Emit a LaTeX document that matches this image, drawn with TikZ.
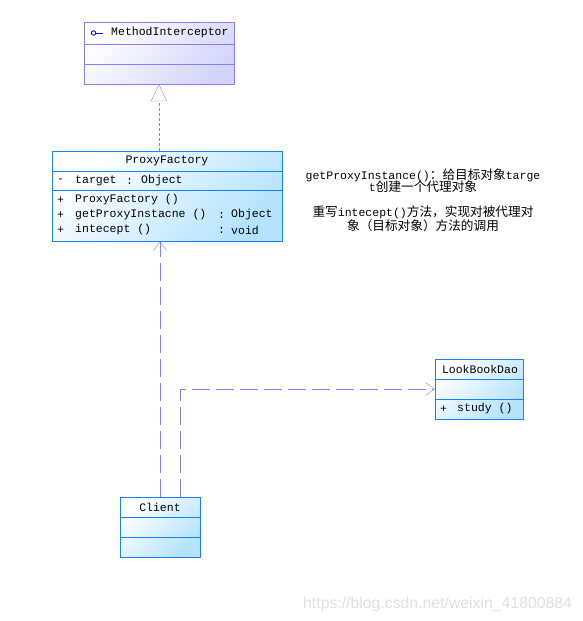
\documentclass[tikz,border=0pt]{standalone}
\usepackage{fontspec}
\setmainfont{Liberation Mono}
\newfontfamily\cjk[Scale=1.1]{Noto Sans CJK SC}
\newfontfamily\wmfont{Liberation Sans}
\usetikzlibrary{arrows.meta}

\definecolor{ifline}{RGB}{128,128,255}
\definecolor{iffill}{RGB}{212,212,250}
\definecolor{clline}{RGB}{20,130,255}
\definecolor{clfill}{RGB}{180,226,255}

\tikzset{
  ifbox/.style={draw=ifline, top color=white, bottom color=iffill, shading angle=45, inner sep=0pt},
  clbox/.style={draw=clline, top color=white, bottom color=clfill, shading angle=45, inner sep=0pt},
  txt/.style={font=\fontsize{11.5}{12}\selectfont, inner sep=0pt, anchor=west},
  ctxt/.style={font=\fontsize{11.5}{12}\selectfont, inner sep=0pt},
  real/.style={ifline, dash pattern=on 3pt off 2pt, -{Triangle[open, length=17pt, width=16pt, fill=white]}},
  dep/.style={ifline, dash pattern=on 18pt off 6pt, -{Straight Barb[length=9pt, width=13pt]}}
}

\begin{document}
\begin{tikzpicture}[x=1pt, y=-1pt]

  \useasboundingbox (0,0) rectangle (583,621);

  % interface MethodInterceptor
  \node[ifbox, minimum width=150pt, minimum height=62pt] (mi) at (159,53) {};
  \draw[ifline] (84,44) -- (234,44);
  \draw[ifline] (84,64) -- (234,64);
  \draw[blue, line width=0.9pt] (93.5,33) circle (2.2pt);
  \draw[blue, line width=0.9pt] (95.7,33) -- (103,33);
  \node[txt] (miname) at (111,33) {MethodInterceptor};

  % class ProxyFactory
  \node[clbox, minimum width=230pt, minimum height=90pt] (pf) at (167,196) {};
  \draw[clline] (52,171) -- (282,171);
  \draw[clline] (52,190) -- (282,190);
  \node[ctxt] (pfname) at (167,161) {ProxyFactory};
  \node[txt] (pfa1) at (57,181) {-};
  \node[txt] (pfa2) at (75,181) {target};
  \node[txt] (pfa3) at (126,181) {:};
  \node[txt] (pfa4) at (141,181) {Object};
  \node[txt] (pfo1) at (57,200) {+};
  \node[txt] (pfo2) at (75,200) {ProxyFactory ()};
  \node[txt] (pfo3) at (57,215) {+};
  \node[txt] (pfo4) at (75,215) {getProxyInstacne ()};
  \node[txt] (pfo5) at (218,215) {:};
  \node[txt] (pfo6) at (231,215) {Object};
  \node[txt] (pfo7) at (57,230) {+};
  \node[txt] (pfo8) at (75,230) {intecept ()};
  \node[txt] (pfo9) at (218,230) {:};
  \node[txt] (pfo10) at (231,230) {void};

  % class LookBookDao
  \node[clbox, minimum width=88pt, minimum height=60pt] (lb) at (479,389) {};
  \draw[clline] (435,379) -- (523,379);
  \draw[clline] (435,399) -- (523,399);
  \node[ctxt] (lbname) at (480,369) {LookBookDao};
  \node[txt] (lbo1) at (440,409) {+};
  \node[txt] (lbo2) at (457,409) {study ()};

  % class Client
  \node[clbox, minimum width=80pt, minimum height=60pt] (cl) at (160,527) {};
  \draw[clline] (120,517) -- (200,517);
  \draw[clline] (120,537) -- (200,537);
  \node[ctxt] (clname) at (160,507) {Client};

  % note
  \node[ctxt] (n1) at (423,175) {getProxyInstance(){\cjk ：给目标对象}targe};
  \node[ctxt] (n2) at (423,187) {t{\cjk 创建一个代理对象}};
  \node[ctxt] (n3) at (423,212) {{\cjk 重写}intecept(){\cjk 方法，实现对被代理对}};
  \node[ctxt] (n4) at (423,226) {{\cjk 象（目标对象）方法的调用}};

  % relations
  \draw[real] (mi.south |- pf.north) -- (mi.south);
  \draw[dep] (cl.north) -- (cl.north |- pf.south);
  \draw[dep] ([xshift=20pt]cl.north) |- (lb.west);

  % watermark
  \node[font=\wmfont\fontsize{15.8}{17}\selectfont, text=black!12, inner sep=0pt, anchor=west] (wm) at (303,604) {https://blog.csdn.net/weixin\_41800884};

\end{tikzpicture}
\end{document}
